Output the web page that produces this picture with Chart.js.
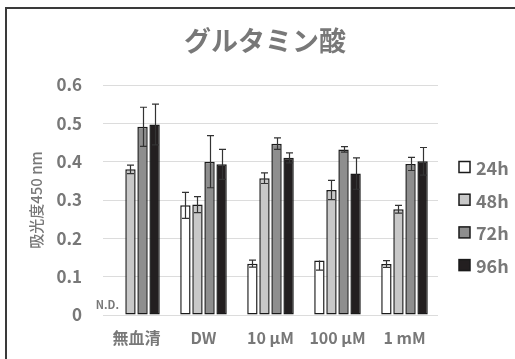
<!DOCTYPE html>
<html>
<head>
<meta charset="utf-8">
<script src="https://cdn.jsdelivr.net/npm/chart.js@4/dist/chart.umd.min.js"></script>
<style>
  html, body { margin: 0; padding: 0; background: #fff; }
  #wrap { position: relative; width: 515px; height: 359px; overflow: hidden; }
  #frame { position: absolute; left: 5px; top: 7px; width: 600px; height: 400px;
           border-top: 2px solid #3a3a3a; border-left: 2px solid #3a3a3a; box-sizing: border-box; }
  canvas { position: absolute; left: 0; top: 0; }
</style>
</head>
<body>
<div id="wrap">
  <div id="frame"></div>
  <canvas id="c" width="515" height="359"></canvas>
</div>
<script>
// Absorbance at 450 nm per condition and incubation time
const categories = ['無血清', 'DW', '10 µM', '100 µM', '1 mM'];
const seriesNames = ['24h', '48h', '72h', '96h'];
const values24 = [null, 0.286, 0.134, 0.142, 0.133];
const values48 = [0.380, 0.288, 0.357, 0.326, 0.276];
const values72 = [0.491, 0.400, 0.447, 0.432, 0.394];
const values96 = [0.497, 0.393, 0.410, 0.369, 0.401];
// error bar extents (upper / lower)
const errUp24 = [0, 0.034, 0.009, 0.000, 0.009];
const errDn24 = [0, 0.034, 0.009, 0.025, 0.009];
const err48 = [0.011, 0.021, 0.014, 0.025, 0.010];
const err72 = [0.051, 0.068, 0.015, 0.007, 0.017];
const err96 = [0.053, 0.039, 0.013, 0.041, 0.036];
const yTicks = [0, 0.1, 0.2, 0.3, 0.4, 0.5, 0.6];
const titleText = 'グルタミン酸';
const yTitle = '吸光度450 nm';
const ndLabel = 'N.D.';

const fills = ['#ffffff', '#c8c8c8', '#8e8e8e', '#231f20'];
const textGray = '#787878';
const fontFam = '"Noto Sans CJK JP", "Noto Sans", sans-serif';

const seriesValues = [values24, values48, values72, values96];
const seriesErrUp = [errUp24, err48, err72, err96];
const seriesErrDn = [errDn24, err48, err72, err96];

const datasets = seriesNames.map((name, i) => ({
  label: name,
  data: seriesValues[i],
  backgroundColor: fills[i],
  borderColor: '#1a1a1a',
  borderWidth: 1.5,
  borderSkipped: false,
  categoryPercentage: 0.72,
  barPercentage: 0.86,
  errUp: seriesErrUp[i],
  errDn: seriesErrDn[i]
}));

const decorations = {
  id: 'decorations',
  afterDatasetsDraw(chart) {
    const ctx = chart.ctx;
    const y = chart.scales.y;
    // error bars
    ctx.save();
    ctx.strokeStyle = '#333';
    ctx.lineWidth = 1.2;
    chart.data.datasets.forEach((ds, di) => {
      const meta = chart.getDatasetMeta(di);
      meta.data.forEach((bar, k) => {
        const v = ds.data[k];
        if (v === null || v === undefined) return;
        const up = ds.errUp[k], dn = ds.errDn[k];
        if (!up && !dn) return;
        const x = Math.round(bar.x) + 0.5;
        const yTop = y.getPixelForValue(v + up);
        const yBot = y.getPixelForValue(v - dn);
        const cap = 3.5;
        ctx.beginPath();
        ctx.moveTo(x, yTop); ctx.lineTo(x, yBot);
        if (up) { ctx.moveTo(x - cap, yTop); ctx.lineTo(x + cap, yTop); }
        if (dn) { ctx.moveTo(x - cap, yBot); ctx.lineTo(x + cap, yBot); }
        ctx.stroke();
      });
    });
    ctx.restore();
  },
  afterDraw(chart) {
    const ctx = chart.ctx;
    const area = chart.chartArea;
    ctx.save();
    ctx.fillStyle = textGray;
    // title
    ctx.font = 'bold 27px ' + fontFam;
    ctx.textAlign = 'center';
    ctx.textBaseline = 'middle';
    ctx.fillText(titleText, 265, 41);
    // y axis title
    ctx.save();
    ctx.translate(36, (area.top + area.bottom) / 2);
    ctx.rotate(-Math.PI / 2);
    ctx.font = '500 15px ' + fontFam;
    ctx.fillText(yTitle, 0, 0);
    ctx.restore();
    // not-detected marker for the missing bar
    const meta0 = chart.getDatasetMeta(0);
    values24.forEach((v, k) => {
      if (v === null) {
        const bx = meta0.data[k].x;
        ctx.font = 'bold 11px ' + fontFam;
        ctx.textAlign = 'center';
        ctx.fillText(ndLabel, bx - 11, area.bottom - 10);
      }
    });
    // legend
    const lx = 459, ly0 = 167, step = 32.7, box = 11;
    seriesNames.forEach((name, i) => {
      const cy = ly0 + i * step;
      ctx.fillStyle = fills[i];
      ctx.fillRect(lx, cy - box / 2, box, box);
      ctx.strokeStyle = '#1a1a1a';
      ctx.lineWidth = 1.5;
      ctx.strokeRect(lx, cy - box / 2, box, box);
      ctx.fillStyle = textGray;
      ctx.font = 'bold 18px ' + fontFam;
      ctx.textAlign = 'left';
      ctx.textBaseline = 'middle';
      ctx.fillText(name, lx + 17, cy + 1);
    });
    ctx.restore();
  }
};

new Chart(document.getElementById('c'), {
  type: 'bar',
  data: { labels: categories, datasets },
  options: {
    responsive: false,
    animation: false,
    devicePixelRatio: 1,
    layout: { padding: { left: 0, right: 77, top: 85, bottom: 0 } },
    plugins: { legend: { display: false }, title: { display: false }, tooltip: { enabled: false } },
    scales: {
      x: {
        grid: { display: false, drawTicks: false },
        border: { display: false },
        ticks: { color: textGray, padding: 13, font: { family: fontFam, size: 16, weight: 'bold' } },
        afterFit(s) { s.height = 44; }
      },
      y: {
        min: 0, max: 0.6,
        afterBuildTicks(s) { s.ticks = yTicks.map(v => ({ value: v })); },
        grid: { color: '#dcdcdc', lineWidth: 1, drawTicks: false },
        border: { display: false },
        ticks: {
          color: textGray, padding: 21,
          font: { family: fontFam, size: 17, weight: 'bold' },
          callback: v => (v === 0 ? '0' : v.toFixed(1))
        },
        afterFit(s) { s.width = 103; }
      }
    }
  },
  plugins: [decorations]
});
</script>
</body>
</html>
